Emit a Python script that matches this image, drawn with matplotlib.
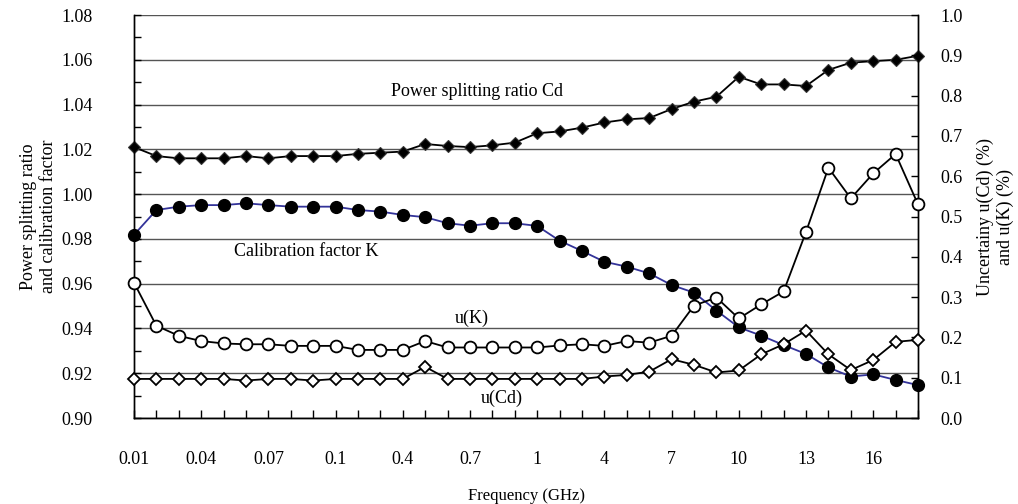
import matplotlib
matplotlib.use('Agg')
import matplotlib.pyplot as plt
from matplotlib.ticker import MultipleLocator

plt.rcParams['font.family'] = 'Liberation Serif'

# Frequency categories (GHz), evenly spaced on a category axis
freqs = ['0.01', '0.02', '0.03', '0.04', '0.05', '0.06', '0.07', '0.08', '0.09',
         '0.1', '0.2', '0.3', '0.4', '0.5', '0.6', '0.7', '0.8', '0.9',
         '1', '2', '3', '4', '5', '6', '7', '8', '9', '10', '11', '12',
         '13', '14', '15', '16', '17', '18']

# Power splitting ratio Cd (left axis)
cd = [1.021, 1.017, 1.016, 1.016, 1.016, 1.017, 1.016, 1.017, 1.017, 1.017, 1.018, 1.0185,
      1.019, 1.0224, 1.0215, 1.021, 1.0218, 1.023, 1.0272, 1.028, 1.0297, 1.032, 1.0334, 1.034,
      1.038, 1.0413, 1.0435, 1.0524, 1.049, 1.049, 1.0483, 1.0555, 1.0587, 1.0594, 1.060, 1.0618]

# Calibration factor K (left axis)
k = [0.9818, 0.9929, 0.9944, 0.9951, 0.9951, 0.9959, 0.9951, 0.9944, 0.9944, 0.9944, 0.9929, 0.9922,
     0.9907, 0.9897, 0.9870, 0.9859, 0.9870, 0.9870, 0.9858, 0.9792, 0.9746, 0.9698, 0.9676, 0.9646,
     0.9594, 0.9560, 0.9480, 0.9405, 0.9368, 0.9326, 0.9286, 0.9226, 0.9185, 0.9195, 0.9170, 0.9147]

# Uncertainty u(K) in % (right axis)
uk = [0.336, 0.229, 0.204, 0.191, 0.185, 0.183, 0.183, 0.179, 0.179, 0.179, 0.169, 0.169,
      0.169, 0.191, 0.175, 0.175, 0.175, 0.175, 0.175, 0.180, 0.183, 0.179, 0.191, 0.187,
      0.204, 0.279, 0.299, 0.247, 0.282, 0.314, 0.462, 0.621, 0.545, 0.607, 0.655, 0.530]

# Uncertainty u(Cd) in % (right axis)
ucd = [0.097, 0.097, 0.097, 0.097, 0.097, 0.093, 0.097, 0.097, 0.093, 0.097, 0.097, 0.097,
       0.097, 0.127, 0.097, 0.097, 0.097, 0.097, 0.097, 0.097, 0.097, 0.103, 0.107, 0.115,
       0.146, 0.132, 0.113, 0.118, 0.158, 0.183, 0.217, 0.158, 0.119, 0.144, 0.189, 0.194]

FS = 13
GRID = '#555555'
NAVY = '#333399'

fig = plt.figure(figsize=(10.18, 5.04), dpi=100)
ax = fig.add_axes([0.1316, 0.1706, 0.7702, 0.7996])
ax2 = ax.twinx()

x = list(range(len(freqs)))

# left axis series
ax.plot(x, cd, color='black', lw=1.3, marker='D', ms=6, mfc='black', mec='#333333',
        mew=0.8, clip_on=False, zorder=3)
ax.plot(x, k, color=NAVY, lw=1.3, marker='o', ms=8.5, mfc='black', mec='black',
        clip_on=False, zorder=3)

# right axis series
ax2.plot(x, uk, color='black', lw=1.3, marker='o', ms=8.5, mfc='white', mec='black',
         mew=1.3, clip_on=False, zorder=3)
ax2.plot(x, ucd, color='black', lw=1.3, marker='D', ms=6, mfc='white', mec='black',
         mew=1.3, clip_on=False, zorder=4)

# axes limits / ticks
ax.set_xlim(0, len(freqs) - 1)
ax.set_ylim(0.90, 1.08)
ax2.set_ylim(0.0, 1.0)

ax.set_xticks(x)
ax.set_xticklabels([f if i % 3 == 0 else '' for i, f in enumerate(freqs)])
ax.tick_params(axis='x', direction='in', length=6, width=1, pad=24, labelsize=FS)

ax.yaxis.set_major_locator(MultipleLocator(0.02))
ax.yaxis.set_minor_locator(MultipleLocator(0.01))
ax.set_yticks([0.90 + 0.02 * i for i in range(10)])
ax.set_yticklabels([f'{0.90 + 0.02 * i:.2f}' for i in range(10)])
ax.tick_params(axis='y', which='both', direction='in', length=5, width=1, pad=30, labelsize=FS)

ax2.set_yticks([0.1 * i for i in range(11)])
ax2.set_yticklabels([f'{0.1 * i:.1f}' for i in range(11)])
ax2.tick_params(axis='y', direction='in', length=5, width=1, pad=16, labelsize=FS)

ax.grid(axis='y', which='major', color=GRID, lw=1.0)
ax.set_axisbelow(True)

for a in (ax, ax2):
    a.spines['top'].set_visible(False)
    for s in ('left', 'right', 'bottom'):
        a.spines[s].set_color('black')
        a.spines[s].set_linewidth(1)

# labels
ax.set_xlabel('Frequency (GHz)', fontsize=FS - 1, labelpad=14)
ax.set_ylabel('Power splitting ratio\nand calibration factor', fontsize=FS, labelpad=3)
ax2.set_ylabel('Uncertainy u(Cd) (%)\nand u(K) (%)', fontsize=FS, labelpad=10)

# series annotations
ax.text(15.3, 1.0457, 'Power splitting ratio Cd', fontsize=FS, ha='center', va='center')
ax.text(7.7, 0.9742, 'Calibration factor K', fontsize=FS, ha='center', va='center')
ax.text(15.1, 0.9447, 'u(K)', fontsize=FS, ha='center', va='center')
ax.text(16.4, 0.9089, 'u(Cd)', fontsize=FS, ha='center', va='center')

fig.savefig('out.png', dpi=100, facecolor='white')
